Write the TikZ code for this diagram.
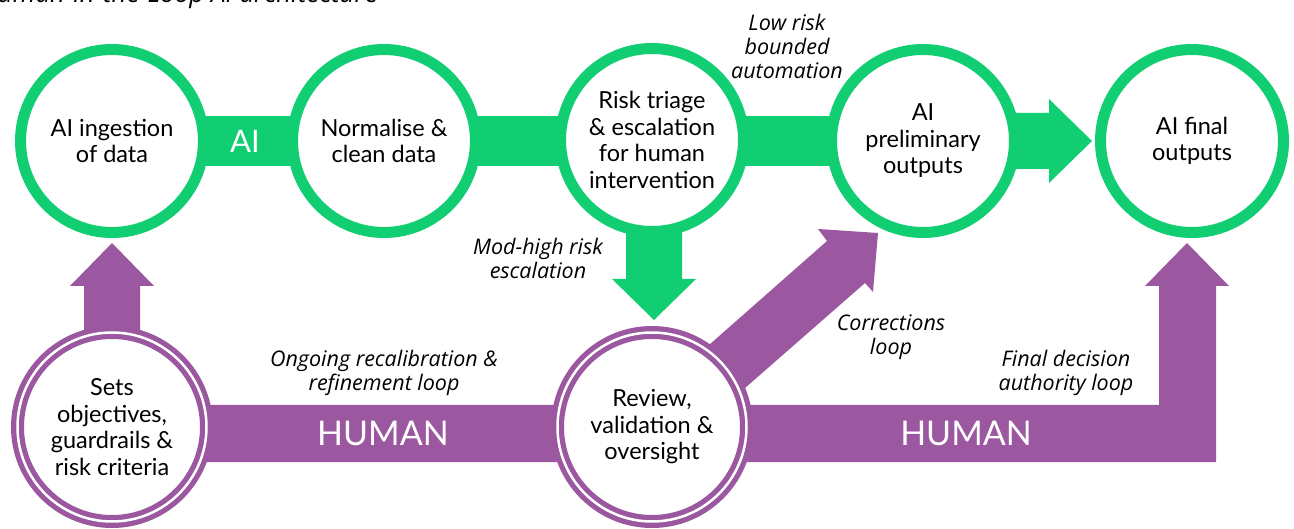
\documentclass[tikz,border=0pt]{standalone}
\usepackage{fontspec}
\setmainfont{Lato}
\newfontfamily\loopfont{Open Sans}
\usetikzlibrary{backgrounds}
\definecolor{aigreen}{RGB}{17,206,115}
\definecolor{hpurple}{RGB}{155,87,160}
\begin{document}
\begin{tikzpicture}[x=1pt,y=1pt,
  aicircle/.style={circle,draw=aigreen,line width=11pt,fill=white,minimum size=183pt,inner sep=0pt,align=center,font=\fontsize{23.5}{26.5}\selectfont},
  humancircle/.style={circle,draw=hpurple,double=white,line width=5.25pt,double distance=2.5pt,fill=white,minimum size=189pt,inner sep=0pt,align=center,font=\fontsize{23.5}{26.5}\selectfont},
  looplabel/.style={align=center,font=\loopfont\fontsize{21.5}{24}\selectfont\itshape},
  bartext/.style={text=white,inner sep=0pt}]
\useasboundingbox (0,0) rectangle (1294,528);
\node[anchor=base west,inner sep=0pt,font=\loopfont\fontsize{26}{30}\selectfont\itshape] (title) at (-20,525) {Human-in-the-Loop AI architecture};
% AI row
\node[aicircle] (ingest) at (112,387) {AI ingestion\\of data};
\node[aicircle] (clean) at (384,387) {Normalise \&\\clean data};
\node[aicircle] (risk) at (652,388) {Risk triage\\\& escalation\\for human\\intervention};
\node[aicircle] (prelim) at (923,387) {AI\\preliminary\\outputs};
\node[aicircle] (final) at (1192,387) {AI final\\outputs};
% human row
\node[humancircle] (sets) at (112,101) {Sets\\objectives,\\guardrails \&\\risk criteria};
\node[humancircle] (review) at (652,101) {Review,\\validation \&\\oversight};
\begin{scope}[on background layer]
\fill[aigreen] ([yshift=-25pt]ingest.center) rectangle ([yshift=25pt]prelim.center);
\fill[aigreen] ([yshift=28pt]prelim.center) -- ++(126,0) -- ++(0,14) -- ++(43,-42) -- ++(-43,-42) -- ++(0,14) -- ([yshift=-28pt]prelim.center) -- cycle;
\fill[aigreen] ([xshift=-26pt]risk.center) -- ++(0,-139) -- ++(-14,0) -- ++(42,-41) -- ++(42,41) -- ++(-14,0) -- ++(0,139) -- cycle;
\fill[hpurple] ([yshift=-35pt]sets.center) -- ++(1104,0) -- ++(0,176) -- ++(13,0) -- ++(-42,43) -- ++(-42,-43) -- ++(14,0) -- ++(0,-119) -- ([yshift=22pt]sets.center) -- cycle;
\fill[hpurple] ([xshift=-28pt]sets.center) -- ++(0,141) -- ++(-14,0) -- ++(42,43) -- ++(42,-43) -- ++(-14,0) -- ++(0,-141) -- cycle;
\fill[hpurple] ([shift={(15,45)}]review.center) -- ++(160,141) -- ++(-9,12) -- ++(60,-4) -- ++(-5,-59) -- ++(-8,9) -- ++(-160,-140) -- cycle;
\end{scope}
\node[bartext,font=\fontsize{31}{34}\selectfont] (ailabel) at (245,387) {AI};
\node[bartext,font=\fontsize{34}{38}\selectfont] (human1) at (383,95) {HUMAN};
\node[bartext,font=\fontsize{34}{38}\selectfont] (human2) at (966,95) {HUMAN};
% loop labels
\node[looplabel] (lowrisk) at (787,482) {Low risk\\bounded\\automation};
\node[looplabel] (modhigh) at (538,270) {Mod-high risk\\escalation};
\node[looplabel] (recal) at (384,155) {Ongoing recalibration \&\\refinement loop};
\node[looplabel] (corr) at (891,191) {Corrections\\loop};
\node[looplabel] (finaldec) at (1066,155) {Final decision\\authority loop};
\end{tikzpicture}
\end{document}
